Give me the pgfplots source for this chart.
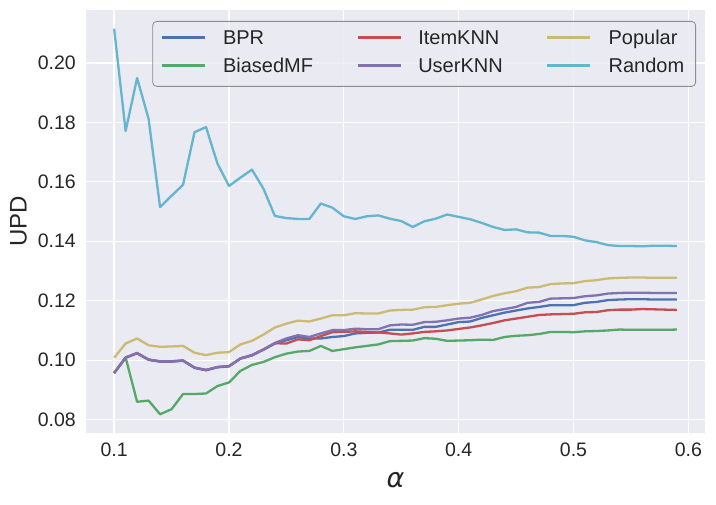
\documentclass[border=0pt]{standalone}
\usepackage{pgfplots}
\pgfplotsset{compat=1.18}
\usepackage{pgfplotstable}
\usepackage{fontspec}
\setmainfont{Liberation Sans}
\newfontfamily\dejavu{DejaVu Sans}
\definecolor{bgc}{HTML}{EAEAF2}
\definecolor{txt}{HTML}{262626}
\definecolor{cbpr}{HTML}{4C72B0}
\definecolor{cbmf}{HTML}{55A868}
\definecolor{citem}{HTML}{C44E52}
\definecolor{cuser}{HTML}{8172B2}
\definecolor{cpop}{HTML}{CCB974}
\definecolor{crand}{HTML}{64B5CD}

\pgfplotstableread{
x    bpr    biasedmf itemknn userknn popular random
0.10 0.0956 0.0957 0.0957 0.0957 0.1008 0.2115
0.11 0.1008 0.1009 0.1009 0.1009 0.1056 0.1771
0.12 0.1023 0.0860 0.1024 0.1024 0.1073 0.1949
0.13 0.1001 0.0864 0.1002 0.1002 0.1050 0.1812
0.14 0.0995 0.0818 0.0996 0.0996 0.1045 0.1515
0.15 0.0995 0.0835 0.0996 0.0996 0.1046 0.1553
0.16 0.0998 0.0886 0.0999 0.0999 0.1048 0.1590
0.17 0.0974 0.0886 0.0975 0.0975 0.1025 0.1767
0.18 0.0966 0.0888 0.0967 0.0967 0.1017 0.1784
0.19 0.0976 0.0913 0.0977 0.0977 0.1025 0.1661
0.20 0.0979 0.0925 0.0980 0.0980 0.1027 0.1586
0.21 0.1005 0.0964 0.1006 0.1006 0.1053 0.1614
0.22 0.1016 0.0984 0.1017 0.1017 0.1065 0.1641
0.23 0.1035 0.0994 0.1036 0.1036 0.1086 0.1577
0.24 0.1056 0.1010 0.1057 0.1058 0.1110 0.1485
0.25 0.1067 0.1022 0.1056 0.1073 0.1123 0.1478
0.26 0.1078 0.1029 0.1070 0.1084 0.1133 0.1475
0.27 0.1073 0.1031 0.1067 0.1078 0.1130 0.1475
0.28 0.1073 0.1048 0.1081 0.1090 0.1140 0.1527
0.29 0.1078 0.1031 0.1094 0.1101 0.1151 0.1513
0.30 0.1081 0.1037 0.1095 0.1101 0.1151 0.1484
0.31 0.1090 0.1043 0.1097 0.1106 0.1158 0.1475
0.32 0.1092 0.1048 0.1095 0.1104 0.1157 0.1484
0.33 0.1093 0.1053 0.1093 0.1104 0.1157 0.1487
0.34 0.1102 0.1064 0.1090 0.1117 0.1167 0.1476
0.35 0.1102 0.1065 0.1086 0.1120 0.1169 0.1468
0.36 0.1102 0.1066 0.1090 0.1119 0.1170 0.1448
0.37 0.1112 0.1074 0.1095 0.1128 0.1178 0.1467
0.38 0.1112 0.1072 0.1097 0.1129 0.1179 0.1476
0.39 0.1120 0.1065 0.1100 0.1134 0.1185 0.1490
0.40 0.1128 0.1066 0.1105 0.1140 0.1190 0.1482
0.41 0.1130 0.1067 0.1110 0.1143 0.1193 0.1474
0.42 0.1142 0.1069 0.1117 0.1152 0.1204 0.1462
0.43 0.1151 0.1068 0.1125 0.1165 0.1216 0.1448
0.44 0.1160 0.1078 0.1134 0.1172 0.1225 0.1438
0.45 0.1167 0.1082 0.1140 0.1179 0.1232 0.1440
0.46 0.1174 0.1084 0.1146 0.1193 0.1244 0.1430
0.47 0.1179 0.1088 0.1152 0.1196 0.1246 0.1429
0.48 0.1185 0.1095 0.1154 0.1207 0.1256 0.1418
0.49 0.1185 0.1095 0.1155 0.1208 0.1258 0.1418
0.50 0.1185 0.1094 0.1156 0.1209 0.1259 0.1415
0.51 0.1193 0.1097 0.1161 0.1215 0.1266 0.1403
0.52 0.1196 0.1098 0.1162 0.1218 0.1269 0.1397
0.53 0.1202 0.1100 0.1168 0.1224 0.1275 0.1387
0.54 0.1204 0.1103 0.1170 0.1226 0.1277 0.1384
0.55 0.1205 0.1102 0.1170 0.1227 0.1278 0.1384
0.56 0.1205 0.1102 0.1172 0.1227 0.1278 0.1383
0.57 0.1204 0.1102 0.1171 0.1226 0.1277 0.1385
0.58 0.1204 0.1102 0.1170 0.1226 0.1277 0.1385
0.59 0.1204 0.1103 0.1169 0.1226 0.1277 0.1384
}\data

\begin{document}
\begin{tikzpicture}[x=1bp,y=1bp]
\useasboundingbox (0,0) rectangle (716,505);
\begin{axis}[
  at={(86bp,72bp)}, anchor=south west,
  scale only axis, width=619bp, height=423bp,
  xmin=0.0755, xmax=0.6145, ymin=0.0755, ymax=0.2178,
  axis background/.style={fill=bgc},
  axis line style={draw=none},
  major tick length=0pt,
  grid=major,
  major grid style={white, line width=1.3bp},
  xtick={0.1,0.2,0.3,0.4,0.5,0.6},
  ytick={0.08,0.10,0.12,0.14,0.16,0.18,0.20},
  scaled ticks=false,
  /pgf/number format/fixed,
  /pgf/number format/fixed zerofill,
  /pgf/number format/assume math mode=true,
  tick label style={font=\fontsize{19.5bp}{23bp}\selectfont, text=txt, inner sep=0pt},
  xticklabel style={/pgf/number format/precision=1, yshift=-10bp},
  yticklabel style={/pgf/number format/precision=2, xshift=-10bp},
  xlabel={\dejavu\itshape α},
  xlabel style={at={(axis description cs:0.5,-0.130)}, anchor=base, font=\fontsize{27bp}{30bp}\selectfont, text=txt, inner sep=0pt},
  ylabel={UPD},
  ylabel style={at={(axis description cs:-0.1228,0.5)}, rotate=0, anchor=north, font=\fontsize{24bp}{28bp}\selectfont, text=txt, inner sep=0pt},
  legend columns=3,
  legend style={at={(0.98546,0.974)}, anchor=north east,
    draw=black!45, line width=0.8bp, rounded corners=4bp,
    fill=bgc, fill opacity=0.8, text opacity=1,
    inner xsep=8bp, inner ysep=8bp, row sep=7bp, column sep=0pt,
    font=\fontsize{20bp}{24bp}\selectfont, text=txt,
    nodes={inner sep=0pt, text height=15bp, text depth=6bp}},
  legend image code/.code={\draw[#1] (0bp,2.5bp) -- (43bp,2.5bp);},
  every axis plot/.append style={line width=2.3bp, line join=round},
]
\addplot[cbpr, forget plot] table[x=x, y=bpr] {\data};
\addplot[cbmf, forget plot] table[x=x, y=biasedmf] {\data};
\addplot[citem, forget plot] table[x=x, y=itemknn] {\data};
\addplot[cuser, forget plot] table[x=x, y=userknn] {\data};
\addplot[cpop, forget plot] table[x=x, y=popular] {\data};
\addplot[crand, forget plot] table[x=x, y=random] {\data};

\addlegendimage{cbpr, line width=2.3bp}
\addlegendentry{\makebox[151bp][l]{\hspace*{17bp}BPR}}
\addlegendimage{citem, line width=2.3bp}
\addlegendentry{\makebox[144bp][l]{\hspace*{16bp}ItemKNN}}
\addlegendimage{cpop, line width=2.3bp}
\addlegendentry{\makebox[96bp][l]{\hspace*{17bp}Popular}}
\addlegendimage{cbmf, line width=2.3bp}
\addlegendentry{\makebox[151bp][l]{\hspace*{17bp}BiasedMF}}
\addlegendimage{cuser, line width=2.3bp}
\addlegendentry{\makebox[144bp][l]{\hspace*{16bp}UserKNN}}
\addlegendimage{crand, line width=2.3bp}
\addlegendentry{\makebox[96bp][l]{\hspace*{17bp}Random}}
\end{axis}
\end{tikzpicture}
\end{document}
